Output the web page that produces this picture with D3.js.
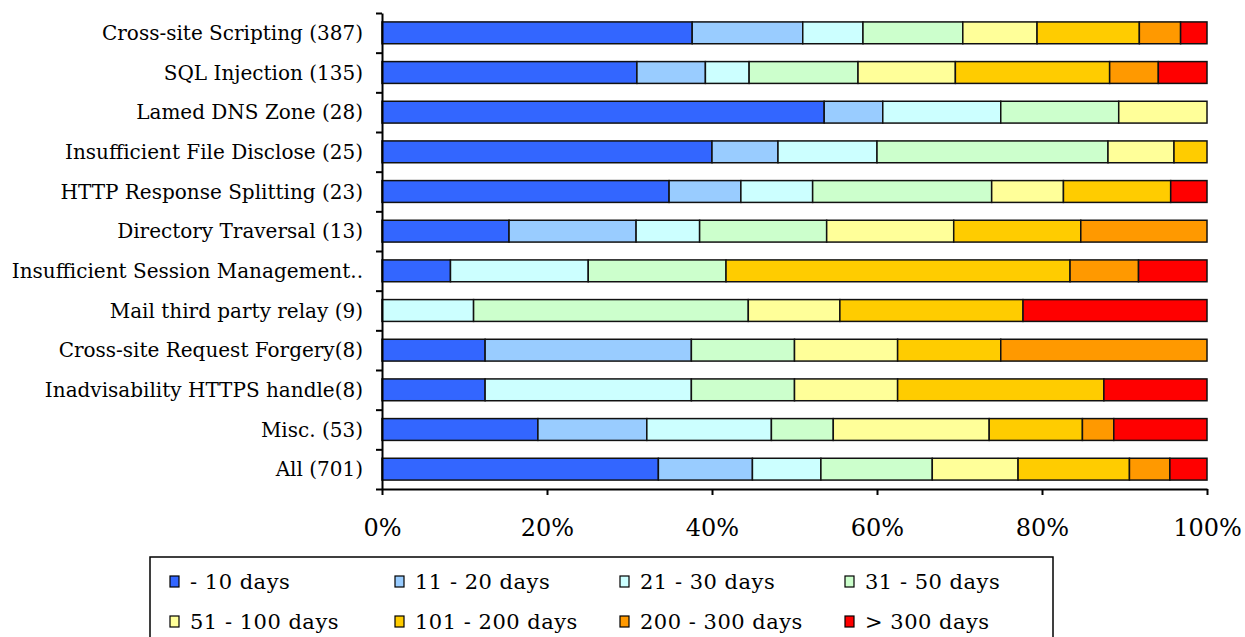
<!DOCTYPE html>
<html>
<head>
<meta charset="utf-8">
<script src="https://cdn.jsdelivr.net/npm/d3@7"></script>
<style>
  body { margin: 0; background: #fff; }
  svg { display: block; font-family: "DejaVu Serif", serif; }
</style>
</head>
<body>
<svg id="chart" width="1245" height="637"></svg>
<script>
const W = 1245;
const H = 637;

const categories = [
    'Cross-site Scripting (387)',
    'SQL Injection (135)',
    'Lamed DNS Zone (28)',
    'Insufficient File Disclose (25)',
    'HTTP Response Splitting (23)',
    'Directory Traversal (13)',
    'Insufficient Session Management..',
    'Mail third party relay (9)',
    'Cross-site Request Forgery(8)',
    'Inadvisability HTTPS handle(8)',
    'Misc. (53)',
    'All (701)'
];

const seriesNames = ['- 10 days', '11 - 20 days', '21 - 30 days', '31 - 50 days',
    '51 - 100 days', '101 - 200 days', '200 - 300 days', '> 300 days'];

const colors = ['#3366FF', '#99CCFF', '#CCFFFF', '#CCFFCC', '#FFFF99', '#FFCC00', '#FF9900', '#FF0000'];

// percentage of each category, one array per series (same order as categories)
const upTo10   = [37.6, 30.9, 53.6, 40.0, 34.8, 15.4,  8.3,  0.0, 12.5, 12.5, 18.9, 33.5];
const d11to20  = [13.4,  8.3,  7.1,  8.0,  8.7, 15.4,  0.0,  0.0, 25.0,  0.0, 13.2, 11.4];
const d21to30  = [ 7.3,  5.3, 14.3, 12.0,  8.7,  7.7, 16.7, 11.1,  0.0, 25.0, 15.1,  8.3];
const d31to50  = [12.1, 13.2, 14.3, 28.0, 21.7, 15.4, 16.7, 33.3, 12.5, 12.5,  7.5, 13.5];
const d51to100 = [ 9.0, 11.8, 10.7,  8.0,  8.7, 15.4,  0.0, 11.1, 12.5, 12.5, 18.9, 10.4];
const d101to200 = [12.4, 18.7, 0.0,  4.0, 13.0, 15.4, 41.7, 22.2, 12.5, 25.0, 11.3, 13.5];
const d200to300 = [ 5.0,  5.9, 0.0,  0.0,  0.0, 15.3,  8.3,  0.0, 25.0,  0.0,  3.8,  4.9];
const over300  = [ 3.2,  5.9,  0.0,  0.0,  4.4,  0.0,  8.3, 22.3,  0.0, 12.5, 11.3,  4.5];

const xTicks = [0, 0.2, 0.4, 0.6, 0.8, 1];

const seriesValues = [upTo10, d11to20, d21to30, d31to50, d51to100, d101to200, d200to300, over300];

const rows = categories.map((c, i) => {
    const row = { name: c };
    const total = d3.sum(seriesValues, s => s[i]);
    seriesNames.forEach((s, k) => { row[s] = seriesValues[k][i] / total; });
    return row;
});

const stack = d3.stack().keys(seriesNames)(rows);

const LEFT = 382, RIGHT = 1207, TOP = 13, BOTTOM = 489;

const svg = d3.select('#chart');

const xScale = d3.scaleLinear().domain([0, 1]).range([LEFT, RIGHT]);
const yScale = d3.scaleBand().domain(categories).range([TOP, BOTTOM])
    .paddingInner(0.45).paddingOuter(0.225);
const yEdges = d3.scaleLinear().domain([0, categories.length]).range([TOP, BOTTOM]);

// bars
svg.append('g')
    .selectAll('g')
    .data(stack)
    .enter()
    .append('g')
    .attr('fill', (d, i) => colors[i])
    .selectAll('rect')
    .data(d => d)
    .enter()
    .append('rect')
    .filter(d => d[1] - d[0] > 0.0001)
    .attr('x', d => xScale(d[0]))
    .attr('y', d => yScale(d.data.name))
    .attr('width', d => xScale(d[1]) - xScale(d[0]))
    .attr('height', yScale.bandwidth())
    .attr('stroke', '#111')
    .attr('stroke-width', 1.5);

// y axis with ticks between categories
const yAxis = svg.append('g')
    .attr('transform', 'translate(' + LEFT + ',0)')
    .call(d3.axisLeft(yEdges).ticks(categories.length).tickFormat('').tickSize(6).tickSizeOuter(0));
yAxis.select('.domain').attr('stroke', '#000').attr('stroke-width', 2);
yAxis.selectAll('.tick line').attr('stroke', '#000').attr('stroke-width', 2);

svg.append('g')
    .selectAll('text')
    .data(categories)
    .enter()
    .append('text')
    .attr('x', LEFT - 19)
    .attr('y', d => yScale(d) + yScale.bandwidth() / 2)
    .attr('dy', '0.35em')
    .attr('text-anchor', 'end')
    .attr('font-size', 20)
    .attr('fill', '#000')
    .text(d => d);

// x axis
const xAxis = svg.append('g')
    .attr('transform', 'translate(0,' + BOTTOM + ')')
    .call(d3.axisBottom(xScale).tickValues(xTicks).tickFormat(d3.format('.0%')).tickSize(6).tickSizeOuter(0).tickPadding(24));
xAxis.select('.domain').attr('stroke', '#000').attr('stroke-width', 2);
xAxis.selectAll('.tick line').attr('stroke', '#000').attr('stroke-width', 2);
xAxis.selectAll('.tick text')
    .attr('font-family', '"DejaVu Serif", serif')
    .attr('font-size', 24)
    .attr('fill', '#000');

// legend
const legend = svg.append('g').attr('transform', 'translate(150,557)');
legend.append('rect')
    .attr('x', 0).attr('y', 0)
    .attr('width', 903).attr('height', 95)
    .attr('fill', '#fff')
    .attr('stroke', '#000')
    .attr('stroke-width', 1.5);

const item = legend.selectAll('g.item')
    .data(seriesNames)
    .enter()
    .append('g')
    .attr('class', 'item')
    .attr('transform', (d, i) => 'translate(' + (20 + (i % 4) * 225) + ',' + (25 + Math.floor(i / 4) * 40) + ')');

item.append('rect')
    .attr('x', 0).attr('y', -6)
    .attr('width', 9).attr('height', 11)
    .attr('fill', (d, i) => colors[i])
    .attr('stroke', '#000')
    .attr('stroke-width', 1.2);

item.append('text')
    .attr('x', 20)
    .attr('y', 0)
    .attr('dy', '0.35em')
    .attr('font-size', 21)
    .attr('letter-spacing', 0.5)
    .attr('fill', '#000')
    .text(d => d);
</script>
</body>
</html>
